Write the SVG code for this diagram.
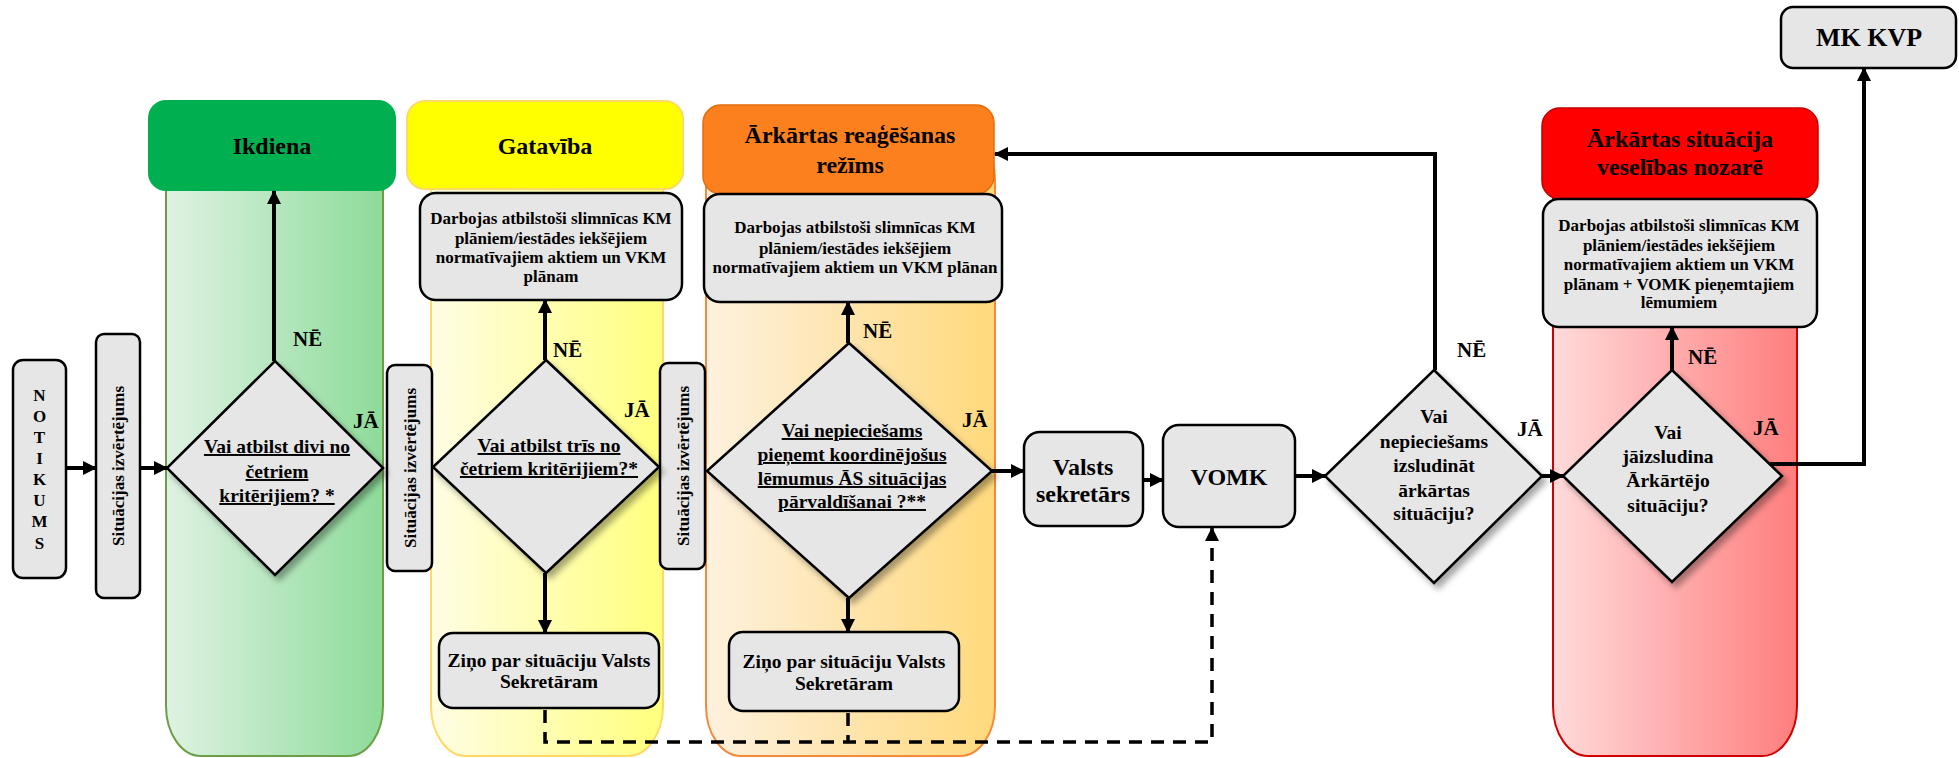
<svg xmlns="http://www.w3.org/2000/svg" width="1959" height="758" viewBox="0 0 1959 758" font-family="'Liberation Serif', 'Times New Roman', 'DejaVu Serif', serif" font-weight="bold">
<defs>
<linearGradient id="gGreen" x1="0" x2="1" y1="0" y2="0"><stop offset="0" stop-color="#DFF2E3"/><stop offset="1" stop-color="#8DDB99"/></linearGradient>
<linearGradient id="gYellow" x1="0" x2="1" y1="0" y2="0"><stop offset="0" stop-color="#FFFDE4"/><stop offset="1" stop-color="#FFFF7E"/></linearGradient>
<linearGradient id="gOrange" x1="0" x2="1" y1="0" y2="0"><stop offset="0" stop-color="#FEF1DE"/><stop offset="1" stop-color="#FFD97C"/></linearGradient>
<linearGradient id="gRed" x1="0" x2="1" y1="0" y2="0"><stop offset="0" stop-color="#FFDADA"/><stop offset="1" stop-color="#FF7E7E"/></linearGradient>
<marker id="arr" viewBox="0 0 14 14" refX="13" refY="7" markerWidth="14" markerHeight="14" markerUnits="userSpaceOnUse" orient="auto"><path d="M0,0 L14,7 L0,14 z" fill="#000"/></marker>
<filter id="sh" x="-20%" y="-20%" width="150%" height="150%"><feDropShadow dx="4" dy="5" stdDeviation="3" flood-color="#000" flood-opacity="0.35"/></filter>
</defs>
<style>
text{font-family:'Liberation Serif','Times New Roman','DejaVu Serif',serif;font-weight:bold;fill:#000}
.box{fill:#E6E6E6;stroke:#000;stroke-width:2.5}
.dia{fill:#E6E6E6;stroke:#000;stroke-width:2.5;filter:url(#sh)}
.lbl{font-size:21px}
.hdr{font-size:24px;text-anchor:middle}
.sm{font-size:17px;text-anchor:middle}
.q{font-size:19.5px;text-anchor:middle}
.u{text-decoration:underline}
.sit{font-size:17px;text-anchor:middle}
.conn{fill:none;stroke:#000;stroke-width:4}
.dash{fill:none;stroke:#000;stroke-width:3.5;stroke-dasharray:13 9}
</style>

<g id="lane-ikdiena">
<rect x="166" y="130" width="217" height="626" rx="35" ry="50" fill="url(#gGreen)" stroke="#6B9E45" stroke-width="2"/>
<rect x="148" y="100" width="248" height="91" rx="18" fill="#00B050"/>
<text class="hdr" x="272" y="154">Ikdiena</text>
</g>
<g id="lane-gataviba">
<rect x="431" y="130" width="232" height="626" rx="35" ry="50" fill="url(#gYellow)" stroke="#FFD966" stroke-width="2"/>
<rect x="407" y="101" width="276" height="88" rx="18" fill="#FFFF00" stroke="#FFD966" stroke-width="2"/>
<text class="hdr" x="545" y="154">Gatavība</text>
</g>
<g id="lane-arkartas">
<rect x="706" y="130" width="289" height="626" rx="35" ry="50" fill="url(#gOrange)" stroke="#F58A3A" stroke-width="2"/>
<rect x="703" y="105" width="291" height="89" rx="18" fill="#FD801F" stroke="#E36C0A" stroke-width="1.5"/>
<text class="hdr" x="850" y="143">Ārkārtas reaģēšanas</text>
<text class="hdr" x="850" y="173">režīms</text>
</g>
<g id="lane-situacija">
<rect x="1553" y="130" width="244" height="626" rx="35" ry="50" fill="url(#gRed)" stroke="#D00000" stroke-width="2"/>
<rect x="1542" y="108" width="276" height="91" rx="18" fill="#FF0000" stroke="#C00000" stroke-width="1.5"/>
<text class="hdr" x="1680" y="147">Ārkārtas situācija</text>
<text class="hdr" x="1680" y="175">veselības nozarē</text>
</g>

<g id="connectors">
<line class="conn" x1="66" y1="468" x2="96" y2="468" marker-end="url(#arr)"/>
<line class="conn" x1="140" y1="468" x2="167" y2="468" marker-end="url(#arr)"/>
<line class="conn" x1="274" y1="361" x2="274" y2="191" marker-end="url(#arr)"/>
<line class="conn" x1="545" y1="360" x2="545" y2="300" marker-end="url(#arr)"/>
<line class="conn" x1="545" y1="573" x2="545" y2="633" marker-end="url(#arr)"/>
<line class="conn" x1="848" y1="343" x2="848" y2="302" marker-end="url(#arr)"/>
<line class="conn" x1="848" y1="598" x2="848" y2="632" marker-end="url(#arr)"/>
<line class="conn" x1="992" y1="471" x2="1024" y2="471" marker-end="url(#arr)"/>
<line class="conn" x1="1143" y1="480" x2="1163" y2="480" marker-end="url(#arr)"/>
<line class="conn" x1="1295" y1="476" x2="1325" y2="476" marker-end="url(#arr)"/>
<path class="conn" d="M1435,370 V154 H995" marker-end="url(#arr)"/>
<line class="conn" x1="1542" y1="476" x2="1563" y2="476" marker-end="url(#arr)"/>
<line class="conn" x1="1672" y1="370" x2="1672" y2="327" marker-end="url(#arr)"/>
<path class="conn" d="M1770,464 H1864 V68" marker-end="url(#arr)"/>
<path class="dash" d="M545,710 V742 H1212 V528" marker-end="url(#arr)"/>
<path class="dash" d="M848,713 V742"/>
</g>

<g id="notikums">
<rect class="box" x="13" y="360" width="53" height="218" rx="10"/>
<text style="font-size:17px;text-anchor:middle">
<tspan x="39.5" y="401">N</tspan><tspan x="39.5" y="422">O</tspan><tspan x="39.5" y="443">T</tspan><tspan x="39.5" y="464">I</tspan><tspan x="39.5" y="485">K</tspan><tspan x="39.5" y="506">U</tspan><tspan x="39.5" y="527">M</tspan><tspan x="39.5" y="549">S</tspan>
</text>
</g>
<g id="izvertejums-1">
<rect class="box" x="96" y="334" width="44" height="264" rx="8"/>
<text class="sit" transform="translate(118,466) rotate(-90)" x="0" y="6">Situācijas izvērtējums</text>
</g>
<g id="izvertejums-2">
<rect class="box" x="387" y="365" width="45" height="206" rx="8"/>
<text class="sit" transform="translate(409.5,468) rotate(-90)" x="0" y="6">Situācijas izvērtējums</text>
</g>
<g id="izvertejums-3">
<rect class="box" x="660" y="363" width="45" height="206" rx="8"/>
<text class="sit" transform="translate(682.5,466) rotate(-90)" x="0" y="6">Situācijas izvērtējums</text>
</g>

<g id="d1">
<polygon class="dia" points="275,361 383,468 275,575 167,468"/>
<text class="q u" x="277" y="453">Vai atbilst divi no</text>
<text class="q u" x="277" y="478">četriem</text>
<text class="q u" x="277" y="502">kritērijiem? *</text>
<text class="lbl" x="293" y="346">NĒ</text>
<text class="lbl" x="353" y="428">JĀ</text>
</g>
<g id="gataviba-box">
<rect class="box" x="420" y="193" width="262" height="107" rx="16"/>
<text class="sm" x="551" y="224">Darbojas atbilstoši slimnīcas KM</text>
<text class="sm" x="551" y="244">plāniem/iestādes iekšējiem</text>
<text class="sm" x="551" y="263">normatīvajiem aktiem un VKM</text>
<text class="sm" x="551" y="282">plānam</text>
</g>
<g id="d2">
<polygon class="dia" points="546,360 659,467 546,573 433,467"/>
<text class="q u" x="549" y="452">Vai atbilst trīs no</text>
<text class="q u" x="549" y="475">četriem kritērijiem?*</text>
<text class="lbl" x="553" y="357">NĒ</text>
<text class="lbl" x="624" y="417">JĀ</text>
</g>
<g id="zino-1">
<rect class="box" x="439" y="633" width="220" height="75" rx="14"/>
<text class="q" x="549" y="667">Ziņo par situāciju Valsts</text>
<text class="q" x="549" y="688">Sekretāram</text>
</g>
<g id="arkartas-box">
<rect class="box" x="704" y="194" width="298" height="108" rx="16"/>
<text class="sm" x="855" y="233">Darbojas atbilstoši slimnīcas KM</text>
<text class="sm" x="855" y="254">plāniem/iestādes iekšējiem</text>
<text class="sm" x="855" y="273">normatīvajiem aktiem un VKM plānan</text>
</g>
<g id="d3">
<polygon class="dia" points="849,343 992,471 849,598 707,471"/>
<text class="q u" x="852" y="437">Vai nepieciešams</text>
<text class="q u" x="852" y="461">pieņemt koordinējošus</text>
<text class="q u" x="852" y="485">lēmumus ĀS situācijas</text>
<text class="q u" x="852" y="508">pārvaldīšanai ?**</text>
<text class="lbl" x="863" y="338">NĒ</text>
<text class="lbl" x="962" y="427">JĀ</text>
</g>
<g id="zino-2">
<rect class="box" x="729" y="632" width="230" height="79" rx="14"/>
<text class="q" x="844" y="668">Ziņo par situāciju Valsts</text>
<text class="q" x="844" y="690">Sekretāram</text>
</g>
<g id="valsts-sekretars">
<rect class="box" x="1024" y="432" width="119" height="94" rx="16"/>
<text class="hdr" x="1083" y="475">Valsts</text>
<text class="hdr" x="1083" y="502">sekretārs</text>
</g>
<g id="vomk">
<rect class="box" x="1163" y="425" width="132" height="102" rx="16"/>
<text class="hdr" x="1229" y="485">VOMK</text>
</g>
<g id="d4">
<polygon class="dia" points="1434,370 1542,476 1434,583 1325,476"/>
<text class="q" x="1434" y="423">Vai</text>
<text class="q" x="1434" y="448">nepieciešams</text>
<text class="q" x="1434" y="472">izsludināt</text>
<text class="q" x="1434" y="497">ārkārtas</text>
<text class="q" x="1434" y="520">situāciju?</text>
<text class="lbl" x="1457" y="357">NĒ</text>
<text class="lbl" x="1517" y="436">JĀ</text>
</g>
<g id="situacija-box">
<rect class="box" x="1543" y="199" width="274" height="128" rx="16"/>
<text class="sm" x="1679" y="231">Darbojas atbilstoši slimnīcas KM</text>
<text class="sm" x="1679" y="251">plāniem/iestādes iekšējiem</text>
<text class="sm" x="1679" y="270">normatīvajiem aktiem un VKM</text>
<text class="sm" x="1679" y="290">plānam + VOMK pieņemtajiem</text>
<text class="sm" x="1679" y="308">lēmumiem</text>
</g>
<g id="d5">
<polygon class="dia" points="1672,370 1782,476 1672,582 1563,476"/>
<text class="q" x="1668" y="439">Vai</text>
<text class="q" x="1668" y="463">jāizsludina</text>
<text class="q" x="1668" y="487">Ārkārtējo</text>
<text class="q" x="1668" y="512">situāciju?</text>
<text class="lbl" x="1688" y="364">NĒ</text>
<text class="lbl" x="1753" y="435">JĀ</text>
</g>
<g id="mk-kvp">
<rect class="box" x="1781" y="7" width="175" height="61" rx="12"/>
<text style="font-size:26px;text-anchor:middle" x="1869" y="46">MK KVP</text>
</g>
</svg>
